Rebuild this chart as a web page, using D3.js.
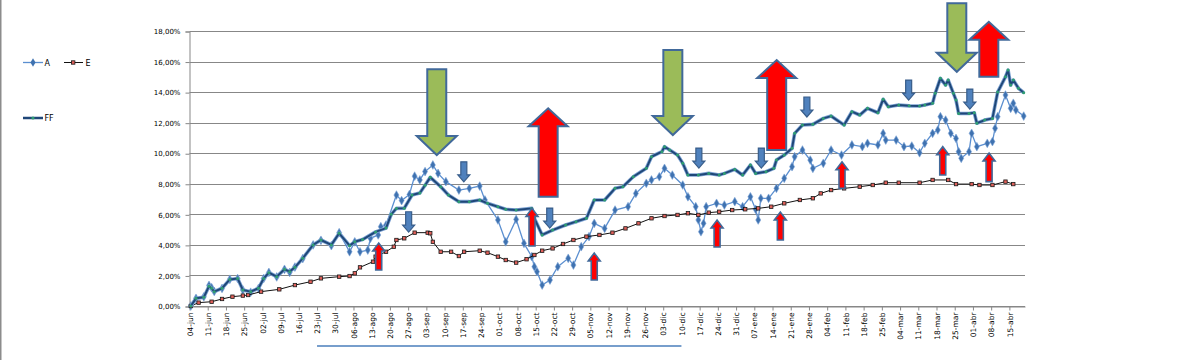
<!DOCTYPE html>
<html><head><meta charset="utf-8">
<script src="https://cdn.jsdelivr.net/npm/d3@7"></script>
<style>body{margin:0;background:#fff}svg{display:block}text{font-family:"DejaVu Sans",Verdana,sans-serif}</style>
</head><body><svg id="c" width="1185" height="360"></svg>
<script>
// ---------- data ----------
const START = new Date(2012, 5, 4);   // 04-jun
const END = new Date(2013, 3, 21);
const monthNames = ["ene","feb","mar","abr","may","jun","jul","ago","sep","oct","nov","dic"];
const yTicks = [0, 2, 4, 6, 8, 10, 12, 14, 16, 18];
const seriesNames = ["A", "E", "FF"];

// day offsets from START and values in %
const aDay = [0,2,5,7,8,9,12,15,18,20,23,26,28,30,33,36,38,40,43,47,50,54,57,61,63,65,68,69,72,73,75,79,81,84,86,88,90,93,95,98,103,107,111,113,118,121,125,128,131,132,133,135,138,141,145,147,150,153,155,159,163,168,171,175,177,180,182,185,189,191,194,195,196,197,198,202,205,209,212,215,217,218,219,222,225,228,231,232,235,238,239,243,246,250,254,258,260,264,266,267,271,274,277,280,282,285,287,288,290,292,294,295,296,299,300,302,306,308,309,310,313,315,316,317,320];
const aVal = [0,0.5,0.6,1.35,1.2,0.95,1.15,1.75,1.8,1.05,0.9,1.15,1.8,2.2,1.9,2.4,2.2,2.55,3.1,4.0,4.3,3.95,4.8,3.55,4.2,3.55,3.66,4.43,4.65,5.19,5.3,7.26,6.9,7.3,8.5,8.25,8.8,9.23,8.68,8.14,7.59,7.7,7.85,6.94,5.63,4.2,5.67,4.1,3.23,2.57,2.25,1.37,1.7,2.57,3.12,2.68,3.88,4.54,5.41,5.08,6.28,6.5,7.37,8.03,8.25,8.46,9.01,8.57,7.92,7.15,6.5,5.63,4.86,5.41,6.5,6.72,6.61,6.83,6.5,7.15,6.33,5.63,7.05,7.05,7.7,8.36,9.12,9.77,10.21,9.55,9.01,9.34,10.21,9.88,10.54,10.43,10.65,10.54,11.3,10.86,10.86,10.43,10.47,10.03,10.65,11.3,11.52,12.39,12.17,11.3,10.97,10.1,9.67,10.1,11.3,10.43,10.65,10.76,11.63,12.39,13.81,12.94,13.27,12.83,12.43];

const eDay = [0,3,8,12,16,20,22,27,34,40,46,50,57,61,63,65,70,71,75,78,79,82,86,91,92,93,96,100,103,105,111,114,118,121,125,129,132,135,139,143,147,152,157,162,167,172,177,182,187,191,195,199,203,208,213,218,223,228,234,239,242,246,251,257,262,267,272,280,285,291,294,300,303,308,313,316];
const eVal = [0,0.22,0.28,0.46,0.61,0.68,0.72,0.94,1.09,1.37,1.59,1.81,1.92,1.96,2.14,2.53,2.9,3.23,3.55,3.88,4.32,4.43,4.8,4.8,4.76,4.2,3.55,3.55,3.27,3.55,3.62,3.49,3.23,3.01,2.84,3.06,3.34,3.62,3.77,4.06,4.32,4.54,4.65,4.8,5.08,5.41,5.74,5.89,5.96,6.07,5.96,6.11,6.17,6.28,6.33,6.39,6.5,6.72,6.94,7.05,7.37,7.59,7.7,7.81,7.92,8.07,8.07,8.07,8.25,8.25,7.98,7.98,7.92,7.92,8.14,7.98];

const fDay = [0,2,5,7,8,9,12,15,18,20,23,26,28,30,33,36,38,40,43,47,50,54,57,61,63,66,71,75,77,79,82,85,88,90,92,96,99,103,107,111,114,118,121,125,131,132,135,139,144,148,152,155,159,163,166,170,175,177,181,182,184,187,189,191,195,199,203,205,209,212,215,217,221,224,225,228,231,232,235,239,243,246,251,254,257,260,264,266,268,272,276,280,282,285,286,288,290,291,293,294,295,299,301,302,305,308,310,313,314,315,316,318,320];
const fVal = [0,0.5,0.57,1.3,1.16,0.94,1.16,1.74,1.8,1.05,0.94,1.16,1.8,2.18,1.92,2.4,2.25,2.53,3.12,4.0,4.32,4.0,4.76,3.95,4.2,4.35,4.85,5.1,6.0,6.39,6.4,7.26,7.4,7.9,8.42,7.81,7.26,6.83,6.83,6.94,6.72,6.5,6.33,6.28,6.39,5.74,4.65,4.97,5.3,5.52,5.74,6.94,6.94,7.7,7.81,8.46,9.01,9.77,10.1,10.43,10.21,9.88,9.34,8.57,8.57,8.68,8.57,8.68,8.94,8.57,9.23,8.68,8.79,9.01,9.55,9.88,10.32,11.3,11.85,11.89,12.28,12.43,11.85,12.72,12.5,12.94,12.65,13.53,13.04,13.15,13.1,13.09,13.15,13.27,13.92,14.9,14.46,14.79,13.92,13.48,12.6,12.6,12.65,11.96,12.17,12.28,14.0,15.0,15.44,14.46,14.79,14.25,13.96];

// annotation arrows: kind, day (centre), tail value, tip value
const arrowKind = ["bigGreen","bigGreen","bigGreen","bigRed","bigRed","bigRed",
  "blue","blue","blue","blue","blue","blue","blue","blue",
  "red","red","red","red","red","red","red","red"];
const arrowDay = [94.5,185.2,294.3,137.3,225.1,306.6,
  83.7,104.9,137.9,195.2,219.2,236.7,275.8,299.3,
  72.2,131.1,155,202.2,226.5,250.2,288.9,306.7];
const arrowFrom = [15.49,16.75,19.81,7.15,10.21,15.0,
  6.17,9.44,6.41,10.34,10.34,13.68,14.79,14.2,
  2.36,3.93,1.70,3.86,4.32,7.70,8.57,8.14];
const arrowTo = [9.88,11.19,15.33,12.94,16.1,18.6,
  4.84,8.13,5.10,9.03,9.03,12.37,13.48,12.89,
  4.12,6.39,3.47,5.63,6.15,9.44,10.43,10.01];
const underlineFrom = new Date(2012, 6, 23), underlineTo = new Date(2012, 11, 10);

// ---------- drawing ----------
const svg = d3.select("#c");
svg.append("rect").attr("width",1185).attr("height",360).attr("fill","#fff");
svg.append("line").attr("x1",0.75).attr("x2",0.75).attr("y1",0).attr("y2",360).attr("stroke","#8c8c8c").attr("stroke-width",1.5);

const x = d3.scaleTime().domain([START, END]).range([189.5, 1025]);
const y = d3.scaleLinear().domain([0, 18]).range([306, 31]);
const dayDate = d => new Date(START.getTime() + (d + 0.5) * 864e5);

const loc = d3.formatLocale({decimal: ",", thousands: ".", grouping: [3], currency: ["", "€"]});
const pct = loc.format(".2%");

// gridlines
svg.append("g").selectAll("line").data(yTicks).join("line")
  .attr("x1", 189.5).attr("x2", 1025)
  .attr("y1", d => Math.round(y(d)) + 0.5).attr("y2", d => Math.round(y(d)) + 0.5)
  .attr("stroke", "#878787").attr("stroke-width", 1);

// y axis
const yAxis = svg.append("g").attr("transform", "translate(189.5,0.5)")
  .call(d3.axisLeft(y).tickValues(yTicks).tickSize(4).tickPadding(5).tickFormat(d => pct(d / 100)));
yAxis.select(".domain").attr("stroke", "#878787");
yAxis.selectAll(".tick line").attr("stroke", "#878787");
yAxis.selectAll("text").attr("font-size", 7).attr("fill", "#000").attr("font-family", "DejaVu Sans");

// x axis
const weeks = d3.timeMonday.range(START, END);
const fmt = d => String(d.getDate()).padStart(2, "0") + "-" + monthNames[d.getMonth()];
const xAxis = svg.append("g").attr("transform", "translate(0,306.5)")
  .call(d3.axisBottom(x).tickValues(weeks).tickSize(4).tickSizeOuter(0).tickFormat(fmt));
xAxis.select(".domain").attr("stroke", "#878787");
xAxis.selectAll(".tick line").attr("stroke", "#878787");
xAxis.selectAll("text").attr("font-size", 7.5).attr("fill", "#000").attr("font-family", "DejaVu Sans")
  .attr("transform", "rotate(-90)").attr("text-anchor", "end")
  .attr("x", -6).attr("y", 0).attr("dy", "0.35em");

svg.append("line").attr("x1", x(underlineFrom)).attr("x2", x(underlineTo))
  .attr("y1", 346).attr("y2", 346).attr("stroke", "#4a7ebb").attr("stroke-width", 1.5);

// series
const mk = (days, vals) => days.map((d, i) => ({date: dayDate(d), v: vals[i]}));
const A = mk(aDay, aVal), E = mk(eDay, eVal), F = mk(fDay, fVal);
const line = d3.line().x(d => x(d.date)).y(d => y(d.v));

// A
svg.append("path").datum(A).attr("d", line).attr("fill", "none").attr("stroke", "#5b8fd0").attr("stroke-width", 1.3);
const diamond = d3.symbol().type(d3.symbolDiamond).size(22);
svg.append("g").selectAll("path").data(A).join("path")
  .attr("transform", d => `translate(${x(d.date)},${y(d.v)})`)
  .attr("d", diamond).attr("fill", "#3f72b0").attr("stroke", "#7fa6d8").attr("stroke-width", 0.6);

// E
svg.append("path").datum(E).attr("d", line).attr("fill", "none").attr("stroke", "#111").attr("stroke-width", 1);
svg.append("g").selectAll("rect").data(E).join("rect")
  .attr("x", d => x(d.date) - 1.7).attr("y", d => y(d.v) - 1.7).attr("width", 3.4).attr("height", 3.4)
  .attr("fill", "#e0605a").attr("stroke", "#1a1a1a").attr("stroke-width", 0.8);

// FF
svg.append("path").datum(F).attr("d", line).attr("fill", "none").attr("stroke", "#7ea3d3").attr("stroke-width", 3.6).attr("stroke-linejoin", "round");
svg.append("path").datum(F).attr("d", line).attr("fill", "none").attr("stroke", "#1f4778").attr("stroke-width", 2).attr("stroke-linejoin", "round");
svg.append("g").selectAll("circle").data(F).join("circle")
  .attr("cx", d => x(d.date)).attr("cy", d => y(d.v)).attr("r", 1.5).attr("fill", "#2f9e72");

// legend
const lg = svg.append("g");
lg.append("line").attr("x1", 23).attr("x2", 43).attr("y1", 62.5).attr("y2", 62.5).attr("stroke", "#5b8fd0").attr("stroke-width", 1.3);
lg.append("path").attr("transform", "translate(33,62.5)").attr("d", diamond).attr("fill", "#3f72b0");
lg.append("text").attr("x", 44.5).attr("y", 65.5).attr("font-size", 8).text(seriesNames[0]);
lg.append("line").attr("x1", 64).attr("x2", 83).attr("y1", 62.5).attr("y2", 62.5).attr("stroke", "#111");
lg.append("rect").attr("x", 71.5).attr("y", 60.8).attr("width", 3.4).attr("height", 3.4).attr("fill", "#e0605a").attr("stroke", "#1a1a1a").attr("stroke-width", 0.8);
lg.append("text").attr("x", 85.5).attr("y", 65.5).attr("font-size", 8).text(seriesNames[1]);
lg.append("line").attr("x1", 23).attr("x2", 43).attr("y1", 118).attr("y2", 118).attr("stroke", "#1f4778").attr("stroke-width", 2.5);
lg.append("circle").attr("cx", 33).attr("cy", 118).attr("r", 1.6).attr("fill", "#2f9e72");
lg.append("text").attr("x", 44.5).attr("y", 121).attr("font-size", 8).text(seriesNames[2]);

// arrows
const arrowStyle = {
  bigGreen: {sw: 19, hw: 40, hl: 19, fill: "#9bbb59", stroke: "#41699a", w: 2},
  bigRed:   {sw: 19, hw: 39, hl: 18, fill: "#ff0000", stroke: "#41699a", w: 2},
  blue:     {sw: 6,  hw: 12, hl: 7,  fill: "#4f81bd", stroke: "#385d8a", w: 1.2},
  red:      {sw: 6,  hw: 12, hl: 8,  fill: "#ff0000", stroke: "#41699a", w: 1.6}
};
function arrowPath(cx, yt, yp, s) {
  const dir = Math.sign(yp - yt), yb = yp - dir * s.hl;
  const a = s.sw / 2, b = s.hw / 2;
  return `M${cx - a},${yt}L${cx + a},${yt}L${cx + a},${yb}L${cx + b},${yb}L${cx},${yp}L${cx - b},${yb}L${cx - a},${yb}Z`;
}
svg.append("g").selectAll("path").data(arrowKind.map((k, i) => ({k, d: arrowDay[i], f: arrowFrom[i], t: arrowTo[i]})))
  .join("path")
  .attr("d", o => arrowPath(x(dayDate(o.d)), y(o.f), y(o.t), arrowStyle[o.k]))
  .attr("fill", o => arrowStyle[o.k].fill)
  .attr("stroke", o => arrowStyle[o.k].stroke)
  .attr("stroke-width", o => arrowStyle[o.k].w)
  .attr("stroke-linejoin", "miter");
</script></body></html>
